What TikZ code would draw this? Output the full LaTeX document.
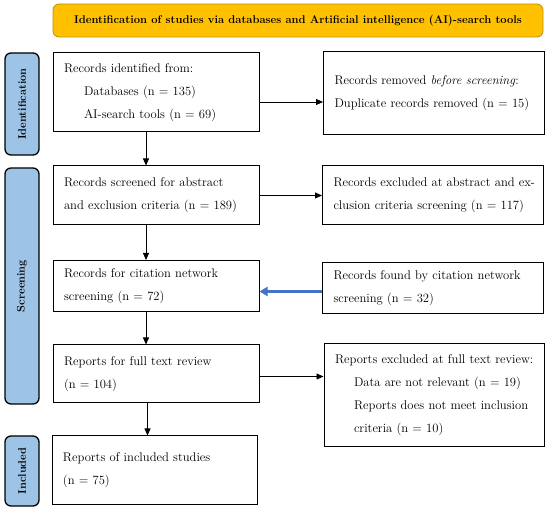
\documentclass[tikz,border=0pt]{standalone}
\usepackage{amsmath}
\usepackage{amssymb}
\usepackage{tikz}
\usetikzlibrary{arrows.meta}
\definecolor{ouro}{HTML}{FFC000}
\definecolor{ourob}{HTML}{BF9000}
\definecolor{azulc}{HTML}{9DC3E6}
\definecolor{azuls}{HTML}{4472C4}
\tikzstyle{texto}=[font=\fontsize{12.6}{23}\selectfont]
\tikzstyle{caixa}=[draw,line width=1pt,align=left,inner xsep=11pt,inner ysep=0pt,text width=184pt,texto]
\tikzstyle{faixa}=[draw=ourob,fill=ouro,line width=0.8pt,rounded corners=6pt,minimum width=490pt,minimum height=33pt,font=\bfseries\fontsize{11.2}{13}\selectfont]
\tikzstyle{etapa}=[draw,line width=1.3pt,fill=azulc,rounded corners=6pt,minimum height=34pt,rotate=90,font=\bfseries\fontsize{11}{13}\selectfont]
\tikzstyle{seta}=[-{Triangle[length=7pt,width=6pt]},line width=0.8pt]

\begin{document}
\begin{tikzpicture}[x=1pt,y=-1pt]
    \useasboundingbox (0,0) rectangle (550,510);
    \node [faixa] (faixa) at (298,20.5) {Identification of studies via databases and Artificial intelligence (AI)-search tools};
    % etapas
    \node [etapa, minimum width=102pt] (e1) at (22,104) {Identification};
    \node [etapa, minimum width=236pt] (e2) at (22,286) {Screening};
    \node [etapa, minimum width=70pt]  (e3) at (22,471) {Included};
    % caixas
    \node [caixa, minimum height=79pt] (c1) at (156,92.5) {Records identified from:\\ \hspace*{20pt}Databases (n = 135)\\ \hspace*{20pt}AI-search tools (n = 69)};
    \node [caixa, text width=199pt, minimum height=83pt] (c2) at (434,93.5) {Records removed \textit{before screening}:\\ \mbox{Duplicate records removed (n = 15)}};
    \node [caixa, minimum height=59pt] (c3) at (156,195.5) {Records screened for abstract\\ \mbox{and exclusion criteria (n = 189)}};
    \node [caixa, text width=199pt, minimum height=59pt] (c4) at (433,195.5) {\mbox{Records excluded at abstract and ex-}\\ \mbox{clusion criteria screening (n = 117)}};
    \node [caixa, minimum height=51pt] (c5) at (156,286) {Records for citation network\\ screening (n = 72)};
    \node [caixa, text width=199pt, minimum height=51pt] (c6) at (433,288) {\mbox{Records found by citation network}\\ screening (n = 32)};
    \node [caixa, minimum height=58pt] (c7) at (156,374) {Reports for full text review\\ (n = 104)};
    \node [caixa, text width=198pt, minimum height=103pt] (c8) at (434,395.5) {\mbox{Reports excluded at full text review:}\\ \hspace*{19pt}\mbox{Data are not relevant (n = 19)}\\ \hspace*{19pt}\mbox{Reports does not meet inclusion}\\ \hspace*{19pt}criteria (n = 10)};
    \node [caixa, text width=183pt, minimum height=69pt] (c9) at (154.5,470.5) {Reports of included studies\\ (n = 75)};
    % setas
    \draw [seta] ([xshift=-10pt]c1.south) -- ([xshift=-10pt]c3.north);
    \draw [seta] ([yshift=-9.5pt]c1.east) -- ([yshift=-9.5pt]c1.east -| c2.west);
    \draw [seta] (c3.east) -- (c4.west);
    \draw [seta] ([xshift=-10pt]c3.south) -- ([xshift=-10pt]c5.north);
    \draw [-{Triangle[length=8pt,width=9pt]}, azuls, line width=2.2pt] ([yshift=-3.5pt]c6.west) -- ([yshift=-3.5pt]c6.west -| c5.east);
    \draw [seta] ([xshift=-10pt]c5.south) -- ([xshift=-10pt]c7.north);
    \draw [seta] ([yshift=-2.5pt]c7.east) -- ([yshift=-2.5pt]c7.east -| c8.west);
    \draw [seta] ([xshift=-8.5pt]c7.south) -- ([xshift=-8.5pt]c7.south |- c9.north);
    \end{tikzpicture}
\end{document}
